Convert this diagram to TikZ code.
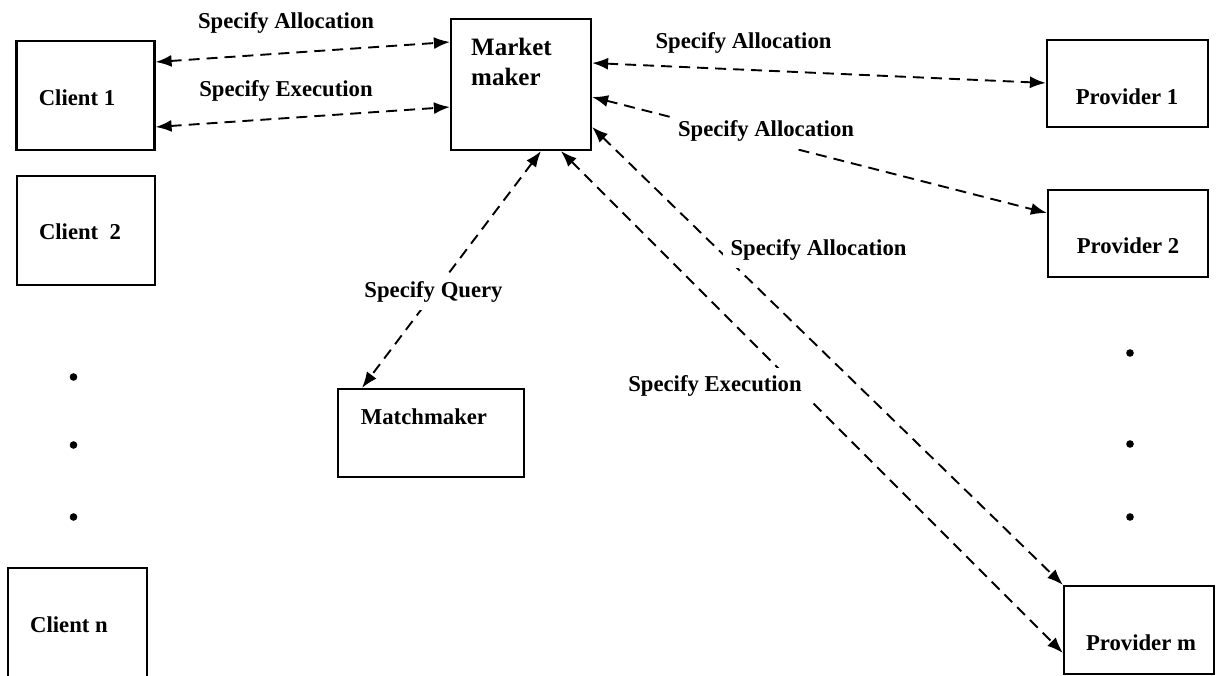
\documentclass[tikz,border=0pt]{standalone}
\usepackage{fontspec}
\setmainfont{Liberation Serif}
\usetikzlibrary{arrows.meta}

\tikzset{
    box/.style={draw, line width=2.2pt, inner sep=0pt},
    txt/.style={font=\fontsize{22.7}{30}\selectfont\bfseries, inner sep=1pt},
    lbl/.style={txt, fill=white, inner sep=8pt},
    link/.style={<->, line width=1.9pt, dash pattern=on 11pt off 7pt},
}

\begin{document}
\begin{tikzpicture}[x=1pt, y=-1pt, >={Latex[length=16pt, width=12pt]}]
    \useasboundingbox (0, 0) rectangle (1231, 676);

    % clients
    \node[box, minimum width=138pt, minimum height=109pt] (c1) at (85.5, 95.5){};
        \node[txt] (c1txt) at (77, 98){Client 1};
    \node[box, minimum width=138pt, minimum height=109pt] (c2) at (86, 230.5){};
        \node[txt] (c2txt) at (80, 232){Client\ \ 2};
    \node[box, minimum width=139pt, minimum height=112pt] (cn) at (77.5, 624){};
        \node[txt] (cntxt) at (69, 625){Client n};
    \foreach \y in {377, 445, 517}
        \fill (73.5, \y) circle (3.8pt);

    % market maker and matchmaker
    \node[box, minimum width=140pt, minimum height=131pt] (mm) at (521, 84.5){};
        \node[txt, font=\fontsize{25}{30}\selectfont\bfseries, align=left, anchor=west] (mmtxt) at (470, 62){Market\\maker};
    \node[box, minimum width=186pt, minimum height=88pt] (mk) at (431, 433){};
        \node[txt] (mktxt) at (424, 417){Matchmaker};

    % providers
    \node[box, minimum width=161pt, minimum height=87pt] (p1) at (1127.5, 83.5){};
        \node[txt] (p1txt) at (1127, 97){Provider 1};
    \node[box, minimum width=160pt, minimum height=87pt] (p2) at (1128, 233.5){};
        \node[txt] (p2txt) at (1128, 246){Provider 2};
    \node[box, minimum width=150pt, minimum height=88pt] (pm) at (1139, 630){};
        \node[txt] (pmtxt) at (1141, 643){Provider m};
    \foreach \y in {353, 444, 517}
        \fill (1130, \y) circle (3.8pt);

    % client side
    \draw[link] (c1.east |- 0, 62) to (mm.west |- 0, 42);
        \node[txt] (la1) at (286, 23){Specify Allocation};
    \draw[link] (c1.east |- 0, 127) to (mm.west |- 0, 107);
        \node[txt] (le1) at (286, 91){Specify Execution};

    % query
    \draw[link] (mm.south -| 541, 0) to (mk.north -| 362, 0);
        \node[lbl] (lq) at (433.5, 292){Specify Query};

    % provider side
    \draw[link] (mm.east |- 0, 63) to (p1.west |- 0, 83);
        \node[txt] (la2) at (743.5, 43){Specify Allocation};
    \draw[link] (mm.east |- 0, 97) to (p2.west |- 0, 213);
        \node[lbl] (la3) at (766, 131){Specify Allocation};
    \draw[link] (mm.east |- 0, 127) to (pm.north west);
        \node[lbl] (la4) at (818.5, 250){Specify Allocation};
    \draw[link] (mm.south -| 561, 0) to (pm.west |- 0, 653);
        \node[lbl] (le2) at (715, 386){Specify Execution};

\end{tikzpicture}
\end{document}
